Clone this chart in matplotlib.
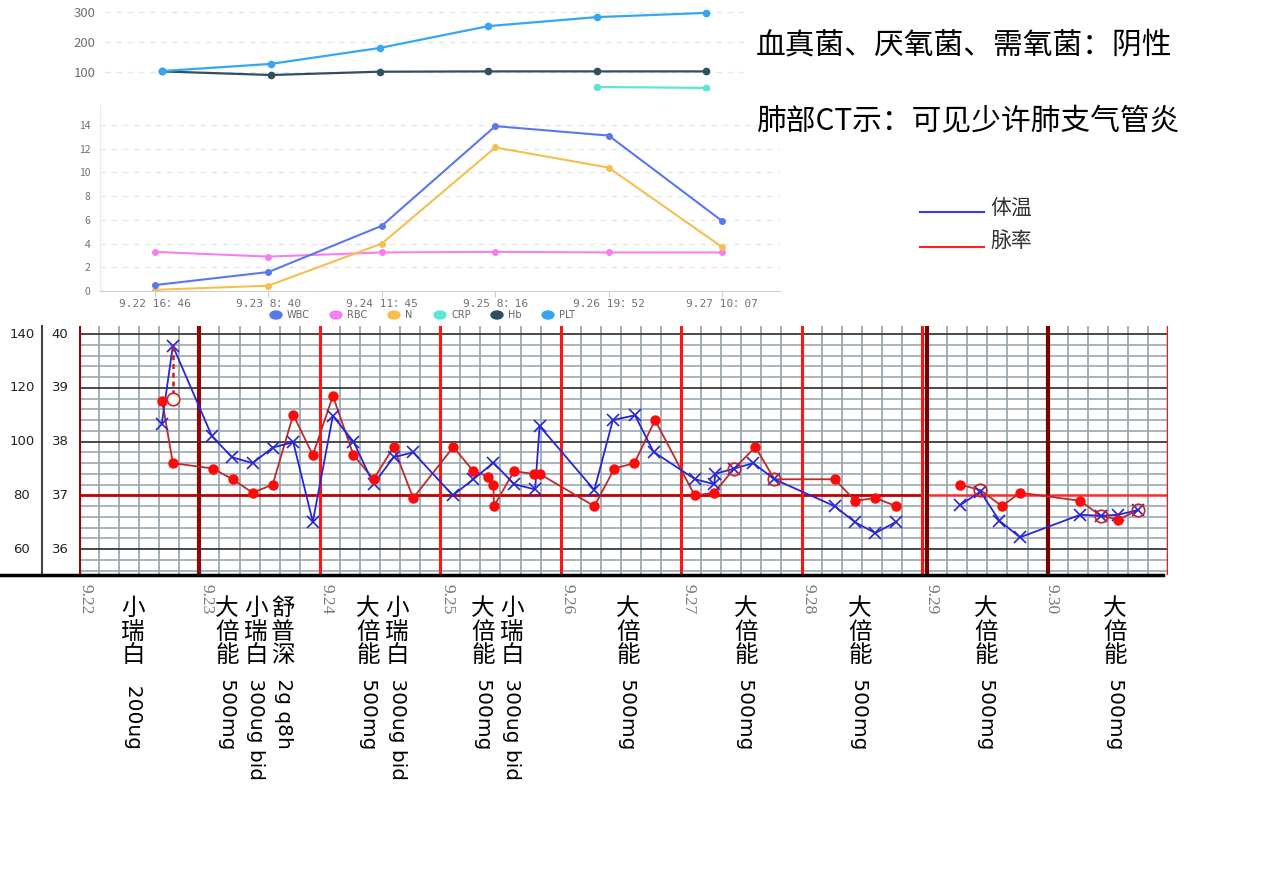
import numpy as np
import matplotlib
matplotlib.use('Agg')
import matplotlib.pyplot as plt
from matplotlib.patches import Ellipse
from matplotlib.lines import Line2D

CJK = ['Noto Sans CJK SC', 'DejaVu Sans']
plt.rcParams['font.family'] = CJK

# ---- lab results (ECharts style panels) ----
lab_times = ['9.22 16：46', '9.23 8：40', '9.24 11：45', '9.25 8：16', '9.26 19：52', '9.27 10：07']
wbc = [0.5, 1.6, 5.5, 13.9, 13.1, 5.9]
rbc = [3.3, 2.9, 3.25, 3.3, 3.25, 3.25]
neut = [0.1, 0.45, 4.0, 12.1, 10.4, 3.7]
crp = [np.nan, np.nan, np.nan, np.nan, 50, 47]
hb = [102, 90, 101, 102, 102, 102]
plt_cnt = [103, 127, 180, 253, 283, 297]
lab_names = ['WBC', 'RBC', 'N', 'CRP', 'Hb', 'PLT']
lab_colors = ['#5b77ee', '#f57ff2', '#f3c04f', '#5de6d8', '#2f5060', '#36a6f4']

# ---- vital signs, hours since 9.22 00:00 ----
days = ['9.22', '9.23', '9.24', '9.25', '9.26', '9.27', '9.28', '9.29', '9.30']
temp_hours = [16.5, 18.7, 26.5, 30.5, 34.6, 38.6, 42.7, 46.6, 50.6, 54.7, 58.7, 62.7, 66.6,
              74.5, 78.6, 82.6, 86.7, 90.9, 91.8, 102.7, 106.4, 110.8, 114.5, 122.8, 126.6,
              126.8, 130.6, 134.4, 138.6, 150.6, 154.7, 158.7, 162.9,
              174.6, 178.6, 182.4, 186.5, 198.5, 202.6, 206.1, 210.1]
temp_vals = [38.33, 39.78, 38.10, 37.71, 37.60, 37.89, 37.99, 36.51, 38.48, 38.00, 37.21, 37.71, 37.80,
             37.00, 37.30, 37.61, 37.21, 37.11, 38.29, 37.10, 38.40, 38.49, 37.81, 37.30, 37.21,
             37.40, 37.50, 37.60, 37.30, 36.80, 36.50, 36.30, 36.51,
             36.82, 37.07, 36.53, 36.22, 36.64, 36.62, 36.64, 36.73]
pulse_hours = [16.6, 18.7, 26.7, 30.6, 34.6, 38.6, 42.7, 46.6, 50.6, 54.7, 58.7, 62.7, 66.6,
               74.6, 78.6, 81.6, 82.6, 82.7, 86.7, 90.6, 91.8, 102.7, 106.7, 110.7, 114.8,
               122.7, 126.6, 130.6, 134.8, 138.6, 150.6, 154.7, 158.7, 162.9,
               174.6, 178.6, 182.9, 186.5, 198.5, 202.6, 206.1, 210.1]
pulse_vals = [115, 92, 90, 86, 81, 84, 110, 95, 117, 95, 86, 98, 79,
              98, 89, 87, 84, 76, 89, 88, 88, 76, 90, 92, 108,
              80, 81, 90, 98, 86, 86, 78, 79, 76,
              84, 82, 76, 81, 78, 72.4, 71, 74.6]
cool_hours = [18.7]
cool_vals = [38.79]

drugs = ['小瑞白  200ug',
         '大倍能 500mg', '小瑞白 300ug bid', '舒普深 2g q8h',
         '大倍能 500mg', '小瑞白 300ug bid',
         '大倍能 500mg', '小瑞白 300ug bid',
         '大倍能 500mg', '大倍能 500mg', '大倍能 500mg', '大倍能 500mg', '大倍能 500mg']
drug_col_x = [133, 227, 256, 283, 368, 397, 483, 512, 628, 746, 860, 986, 1115]

W, H = 1268, 893
fig = plt.figure(figsize=(W / 100, H / 100), dpi=100)


def fx(x):
    return x / W


def fy(y):
    return 1 - y / H


def fbox(x0, y0, x1, y1):
    return [x0 / W, 1 - y1 / H, (x1 - x0) / W, (y1 - y0) / H]


grey_txt = '#6e7079'

# ---- top panel: PLT / Hb / CRP ----
ax1 = fig.add_axes(fbox(105, 3, 745, 90))
ax1.set_xlim(-0.524, 5.358)
ax1.set_ylim(40, 330)
for v in [100, 200, 300]:
    ax1.axhline(v, color='#e3e6ec', lw=1, ls=(0, (4, 4)), zorder=0)
ix = np.arange(len(lab_times))
for vals, c in [(crp, lab_colors[3]), (hb, lab_colors[4]), (plt_cnt, lab_colors[5])]:
    ax1.plot(ix, vals, color=c, lw=1.6, marker='o', ms=4.5)
ax1.set_yticks([100, 200, 300])
ax1.tick_params(axis='y', length=0, pad=7, labelsize=9.5, labelcolor=grey_txt)
ax1.set_xticks([])
for s in ax1.spines.values():
    s.set_visible(False)
ax1.patch.set_alpha(0)

# ---- middle panel: WBC / RBC / N ----
ax2 = fig.add_axes(fbox(100, 105, 780, 291))
ax2.set_xlim(-0.485, 5.51)
ax2.set_ylim(0, 15.68)
for v in range(2, 15, 2):
    ax2.axhline(v, color='#e3e6ec', lw=1, ls=(0, (4, 4)), zorder=0)
for vals, c in [(rbc, lab_colors[1]), (neut, lab_colors[2]), (wbc, lab_colors[0])]:
    ax2.plot(ix, vals, color=c, lw=1.5, marker='o', ms=4)
ax2.set_yticks(range(0, 15, 2))
ax2.set_xticks(ix)
ax2.set_xticklabels(lab_times, family=['DejaVu Sans Mono', 'Noto Sans CJK SC'], fontsize=8, color=grey_txt)
ax2.tick_params(axis='y', length=0, pad=7, labelsize=7.5, labelcolor=grey_txt)
ax2.tick_params(axis='x', length=4, color='#c9ced6', pad=2)
for k in ['top', 'right']:
    ax2.spines[k].set_visible(False)
ax2.spines['left'].set_color('#e6e9ee')
ax2.spines['bottom'].set_color('#c9ced6')
ax2.patch.set_alpha(0)

leg_dot_x = [276, 336, 394, 440, 497, 548]
for name, c, lx in zip(lab_names, lab_colors, leg_dot_x):
    fig.add_artist(Ellipse((fx(lx), fy(315)), 12 / W, 8 / H, color=c, transform=fig.transFigure))
    fig.text(fx(lx + 11), fy(315), name, fontsize=7, color='#666666', va='center', ha='left',
             family='DejaVu Sans')

# ---- notes on the right ----
fig.text(fx(756), fy(45), '血真菌、厌氧菌、需氧菌：阴性', fontsize=21.4, va='center', ha='left')
fig.text(fx(756), fy(122), '肺部CT示：可见少许肺支气管炎', fontsize=21.4, va='center', ha='left')
fig.add_artist(Line2D([fx(920), fx(984)], [fy(212)] * 2, color='#3a3af0', lw=1.5, transform=fig.transFigure))
fig.add_artist(Line2D([fx(920), fx(984)], [fy(247)] * 2, color='#ff2020', lw=1.5, transform=fig.transFigure))
fig.text(fx(990), fy(208), '体温', fontsize=15, color='#333333', va='center', ha='left')
fig.text(fx(990), fy(241), '脉率', fontsize=15, color='#333333', va='center', ha='left')

# ---- temperature / pulse chart ----
GAP = 1.04
ax3 = fig.add_axes(fbox(79, 326, 1168, 575))
ax3.set_xlim(0, 216 + GAP)
ax3.set_ylim(35.52, 40.15)
ax3.axis('off')


def xp(h):
    h = np.asarray(h, dtype=float)
    return np.where(h >= 168, h + GAP, h)


grid_c = '#9aa8b0'
for t in np.arange(35.6, 40.01, 0.2):
    if abs(t - round(t)) > 0.01:
        ax3.axhline(t, color=grid_c, lw=1.2, zorder=1)
for t in [36, 38, 39, 40]:
    ax3.axhline(t, color='#3a3a3a', lw=1.3, zorder=2)
ax3.plot([0, 168], [37, 37], color='#c00000', lw=2, zorder=3)
ax3.plot([168 + GAP, 216 + GAP], [37, 37], color='#ff2a2a', lw=1.8, zorder=3)
for h in range(4, 216, 4):
    if h % 24:
        ax3.axvline(xp(h), color=grid_c, lw=1.3, zorder=1)
for i in range(len(days)):
    h = 24 * i
    if i in (0, 1):
        ax3.axvline(h, color='#8e0808', lw=3, zorder=4)
    elif i < 7:
        ax3.axvline(h, color='#ff1414', lw=2.2, zorder=4)
    else:
        ax3.axvline(h + GAP, color='#7a0000', lw=3, zorder=4)
ax3.axvline(168, color='#ff1414', lw=2.2, zorder=4)
ax3.axvline(216 + GAP, color='#ff1414', lw=2.5, zorder=4)

th = np.array(temp_hours)
tv = np.array(temp_vals)
ph = np.array(pulse_hours)
pv = 37 + (np.array(pulse_vals) - 80) / 20.0

for sec in [(0, 168), (168, 240)]:
    m = (th >= sec[0]) & (th < sec[1])
    ax3.plot(xp(th[m]), tv[m], color='#2626d6', lw=1.3, marker='x', ms=8, mew=1.2, zorder=6)
    m = (ph >= sec[0]) & (ph < sec[1])
    ax3.plot(xp(ph[m]), pv[m], color='#bf2a2a', lw=1.3, zorder=5)

same = np.array([np.any((np.abs(th - h) < 0.3) & (np.abs(tv - v) < 0.05)) for h, v in zip(ph, pv)])
ax3.plot(xp(ph[~same]), pv[~same], ls='none', marker='o', ms=6.5, color='#ff0a0a', zorder=7)
ax3.plot(xp(ph[same]), pv[same], ls='none', marker='o', ms=9, mfc='none', mec='#d02020', mew=1.2, zorder=7)

for h, v in zip(cool_hours, cool_vals):
    v0 = tv[np.argmin(np.abs(th - h))]
    ax3.plot([h, h], [v0, v], color='#d02020', lw=1.8, ls=(0, (2, 1.5)), zorder=6)
    ax3.plot([h], [v], marker='o', ms=9, mfc='white', mec='#d02020', mew=1.2, zorder=7)

for t in [36, 37, 38, 39, 40]:
    p = 80 + (t - 37) * 20
    ax3.annotate(str(t), xy=(60, t), xycoords=('figure pixels', 'data'), ha='center', va='center',
                 fontsize=9.5, color='#222222', family='DejaVu Sans', annotation_clip=False)
    ax3.annotate(str(p), xy=(22, t), xycoords=('figure pixels', 'data'), ha='center', va='center',
                 fontsize=9.5, color='#222222', family='DejaVu Sans', annotation_clip=False)

fig.add_artist(Line2D([fx(42)] * 2, [fy(326), fy(575)], color='#444444', lw=1.5, transform=fig.transFigure))
fig.add_artist(Line2D([0, fx(1163)], [fy(575)] * 2, color='black', lw=2.5, transform=fig.transFigure))

# date labels below the chart
for i, d in enumerate(days):
    px = 79 + (24 * i + (GAP if i >= 7 else 0)) * (1089 / (216 + GAP)) + (7 if i < 7 else 4)
    fig.text(fx(px), fy(584), d, rotation=-90, rotation_mode='anchor', ha='left', va='center',
             fontsize=12.5, color='#777777', family='Liberation Serif')

# vertical drug notes: CJK upright, latin rotated
renderer = fig.canvas.get_renderer()


def vtext(x, y, s, size=17, latin_size=14.5):
    em = size * 100 / 72
    cur = y
    runs = []
    for ch in s:
        cj = ord(ch) > 0x2e80
        if runs and not cj and not runs[-1][0]:
            runs[-1][1] += ch
        else:
            runs.append([cj, ch])
    for cj, txt in runs:
        if cj:
            fig.text(fx(x), fy(cur), txt, ha='center', va='top', fontsize=size)
            cur += em
        else:
            t = fig.text(fx(x), fy(cur + 4), txt, rotation=-90, rotation_mode='anchor',
                         ha='left', va='center', fontsize=latin_size, family='DejaVu Sans')
            cur += t.get_window_extent(renderer).height


for x, s in zip(drug_col_x, drugs):
    vtext(x, 597, s)

fig.savefig('out.png', dpi=100)
